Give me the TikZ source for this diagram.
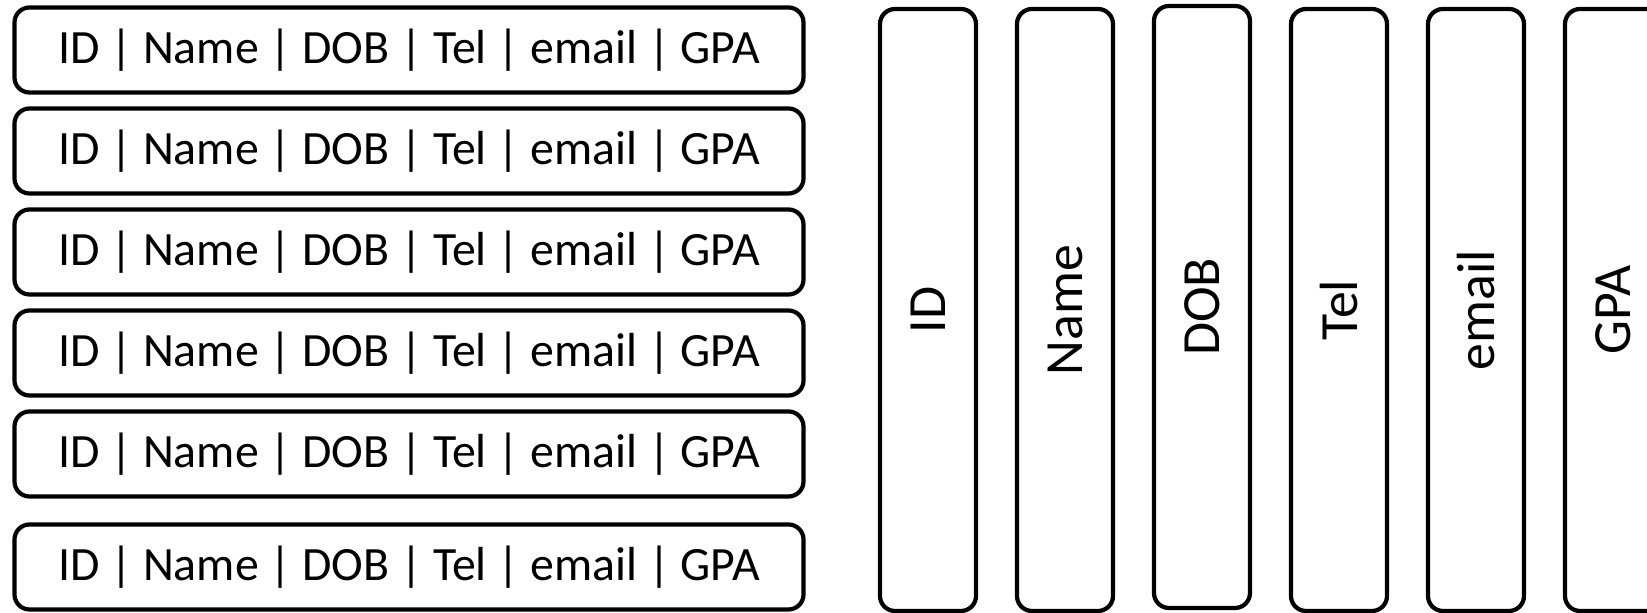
\documentclass[tikz,border=0pt]{standalone}
\usepackage{fontspec}
\setmainfont{Carlito}
\tikzset{
  record/.style={draw, line width=1.2pt, rounded corners=0.15cm, inner sep=0pt,
    minimum width=7.89cm, minimum height=0.85cm, font=\fontsize{13.6}{16}\selectfont},
  field/.style={draw, line width=1.2pt, rounded corners=0.15cm, inner sep=0pt, rotate=90,
    minimum width=6.02cm, minimum height=0.96cm, font=\fontsize{15.3}{18}\selectfont}
}
\begin{document}
\begin{tikzpicture}
\useasboundingbox (0,0) rectangle (16.47,-6.13);
\node[record] (row1) at (4.09,-0.50) {ID | Name | DOB | Tel | email | GPA};
\node[record] (row2) at (4.09,-1.51) {ID | Name | DOB | Tel | email | GPA};
\node[record] (row3) at (4.09,-2.52) {ID | Name | DOB | Tel | email | GPA};
\node[record] (row4) at (4.09,-3.53) {ID | Name | DOB | Tel | email | GPA};
\node[record] (row5) at (4.09,-4.54) {ID | Name | DOB | Tel | email | GPA};
\node[record] (row6) at (4.09,-5.67) {ID | Name | DOB | Tel | email | GPA};
\node[field] (colid) at (9.28,-3.10) {ID};
\node[field] (colname) at (10.65,-3.10) {Name};
\node[field] (coldob) at (12.02,-3.07) {DOB};
\node[field] (coltel) at (13.39,-3.10) {Tel};
\node[field] (colemail) at (14.76,-3.10) {email};
\node[field] (colgpa) at (16.13,-3.10) {GPA};
\end{tikzpicture}
\end{document}
